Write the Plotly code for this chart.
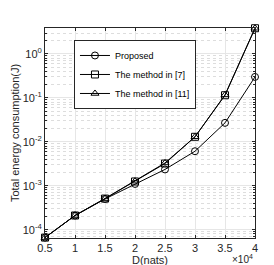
import plotly.graph_objects as go

D = [5000, 10000, 15000, 20000, 25000, 30000, 35000, 40000]
proposed = [6.6e-5, 2.1e-4, 5.0e-4, 1.1e-3, 2.35e-3, 6.1e-3, 2.7e-2, 0.30]
method7 = [6.6e-5, 2.1e-4, 5.1e-4, 1.25e-3, 3.2e-3, 1.3e-2, 0.115, 3.85]
method11 = [6.6e-5, 2.1e-4, 5.1e-4, 1.27e-3, 3.3e-3, 1.3e-2, 0.117, 3.85]

names = ["Proposed", "The method in [7]", "The method in [11]"]
symbols = ["circle-open", "square-open", "triangle-up-open"]

x_tickvals = [5000, 10000, 15000, 20000, 25000, 30000, 35000, 40000]
x_ticktext = ["0.5", "1", "1.5", "2", "2.5", "3", "3.5", "4"]
y_tickvals = [1e-4, 1e-3, 1e-2, 1e-1, 1]
y_ticktext = ["10<sup>-4</sup>", "10<sup>-3</sup>", "10<sup>-2</sup>", "10<sup>-1</sup>", "10<sup>0</sup>"]

minor_vals = [k * 10 ** e for e in range(-5, 1) for k in range(2, 10)]

fig = go.Figure()
for name, ys, sym in zip(names, [proposed, method7, method11], symbols):
    fig.add_trace(go.Scatter(
        x=D, y=ys, name=name, mode="lines+markers",
        line=dict(color="black", width=1),
        marker=dict(symbol=sym, size=7, color="black", line=dict(color="black", width=1)),
        cliponaxis=False,
    ))

axcol = "#262626"
fig.update_layout(
    width=274, height=265,
    margin=dict(l=37, r=27, t=20, b=35),
    paper_bgcolor="white", plot_bgcolor="white",
    font=dict(family="Liberation Sans, Arial, sans-serif", size=10, color=axcol),
    showlegend=True,
    legend=dict(
        x=0.138, y=0.943, xanchor="left", yanchor="top",
        bgcolor="white", bordercolor=axcol, borderwidth=1,
        font=dict(size=9, color="black"),
        tracegroupgap=0, itemwidth=30,
    ),
    xaxis=dict(
        range=[5000, 40000], tickvals=x_tickvals, ticktext=x_ticktext,
        showline=True, linecolor=axcol, linewidth=1, mirror="ticks",
        ticks="inside", ticklen=3, tickcolor=axcol,
        showgrid=True, gridcolor="#e6e6e6", gridwidth=1, zeroline=False,
        tickfont=dict(size=11), automargin=False,
        title=dict(text="D(nats)", font=dict(size=11), standoff=0),
    ),
    yaxis=dict(
        type="log", range=[-4.19, 0.591],
        tickvals=y_tickvals, ticktext=y_ticktext,
        showline=True, linecolor=axcol, linewidth=1, mirror="ticks",
        ticks="inside", ticklen=3, tickcolor=axcol,
        showgrid=True, gridcolor="#e6e6e6", gridwidth=1, zeroline=False,
        tickfont=dict(size=11), automargin=False,
        title=dict(text="Total energy consumption(J)", font=dict(size=11), standoff=0),
        minor=dict(tickmode="array", tickvals=minor_vals, ticks="inside", ticklen=2,
                   tickcolor=axcol, showgrid=True, griddash="dot", gridcolor="#dddddd", gridwidth=1),
    ),
)
fig.add_annotation(
    text="\u00d710<sup>4</sup>", xref="paper", yref="paper",
    x=1.0, y=-0.10, xanchor="right", yanchor="middle", showarrow=False,
    font=dict(size=10, color=axcol),
)
fig.write_html("out.html")
